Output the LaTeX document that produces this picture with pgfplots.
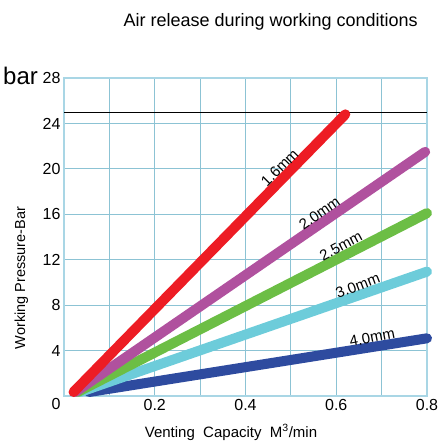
\documentclass[border=0pt]{standalone}
\usepackage{fontspec}
\setmainfont{Liberation Sans}
\usepackage{pgfplots}
\pgfplotsset{compat=1.18}
\usetikzlibrary{calc}
\definecolor{cred}{HTML}{ED1C24}
\definecolor{cpurple}{HTML}{B0519E}
\definecolor{cgreen}{HTML}{6CBE45}
\definecolor{ccyan}{HTML}{6DCCDA}
\definecolor{cblue}{HTML}{2E4B9F}
\definecolor{gridc}{HTML}{8CC3D4}
\definecolor{framec}{HTML}{A9D6E5}
\begin{document}
\begin{tikzpicture}
\useasboundingbox (-64pt,-45pt) rectangle (374pt,396pt);
\begin{axis}[
  at={(0pt,0pt)}, anchor=south west,
  scale only axis, width=363pt, height=318pt,
  xmin=0, xmax=0.8, ymin=0, ymax=28,
  xtick={0.2,0.4,0.6,0.8}, xticklabels={0.2,0.4,0.6,0.8},
  minor xtick={0.1,0.3,0.5,0.7},
  ytick={0,4,8,12,16,20,24,28},
  yticklabels={\raisebox{-9pt}[8pt][0pt]{0},4,8,12,16,20,24,28},
  grid=both,
  major grid style={draw=gridc, line width=0.9pt},
  minor grid style={draw=gridc, line width=0.9pt},
  axis line style={draw=framec, line width=1.8pt},
  major tick length=0pt, minor tick length=0pt,
  tick style={draw=none},
  tick label style={font=\fontsize{16}{18}\selectfont},
  /pgf/number format/assume math mode=true,
  clip=false,
]
\addplot[black, line width=0.8pt] coordinates {(0,25) (0.8,25)};
\addplot[cblue, line width=10pt, line cap=round] coordinates {(0.055,0.35) (0.8,5.08)};
\addplot[ccyan, line width=10pt, line cap=round] coordinates {(0.035,0.35) (0.8,10.95)};
\addplot[cgreen, line width=10pt, line cap=round] coordinates {(0.03,0.35) (0.8,16.1)};
\addplot[cpurple, line width=10pt, line cap=round] coordinates {(0.025,0.35) (0.796,21.5)};
\addplot[cred, line width=10pt, line cap=round] coordinates {(0.021,0.35) (0.62,24.8)};
\node[rotate=45, anchor=south, inner sep=0.5pt, font=\fontsize{15}{17}\selectfont] at ($(axis cs:0.49,19.5)+(135:3.5pt)$) {1.6mm};
\node[rotate=35, anchor=south, inner sep=0.5pt, font=\fontsize{15}{17}\selectfont] at ($(axis cs:0.575,15.43)+(125:3.5pt)$) {2.0mm};
\node[rotate=28, anchor=south, inner sep=0.5pt, font=\fontsize{15}{17}\selectfont] at ($(axis cs:0.62,12.44)+(118:3.5pt)$) {2.5mm};
\node[rotate=21, anchor=south, inner sep=0.5pt, font=\fontsize{15}{17}\selectfont] at ($(axis cs:0.655,8.93)+(111:3.5pt)$) {3.0mm};
\node[rotate=11, anchor=south, inner sep=0.5pt, font=\fontsize{15}{17}\selectfont] at ($(axis cs:0.683,4.34)+(101:3.5pt)$) {4.0mm};
\end{axis}
\node[anchor=base east, inner sep=0pt, font=\fontsize{18}{21}\selectfont] at (354pt,369pt) {Air release during working conditions};
\node[anchor=base west, inner sep=0pt, font=\fontsize{24}{28}\selectfont] at (-61pt,311pt) {bar};
\node[anchor=base, rotate=90, inner sep=0pt, font=\fontsize{14.5}{17}\selectfont] at (-39pt,118pt) {Working Pressure-Bar};
\node[anchor=base, inner sep=0pt, font=\fontsize{15}{18}\selectfont] at (167pt,-41pt) {Venting\ \ Capacity\ \ M\textsuperscript{3}/min};
\end{tikzpicture}
\end{document}
